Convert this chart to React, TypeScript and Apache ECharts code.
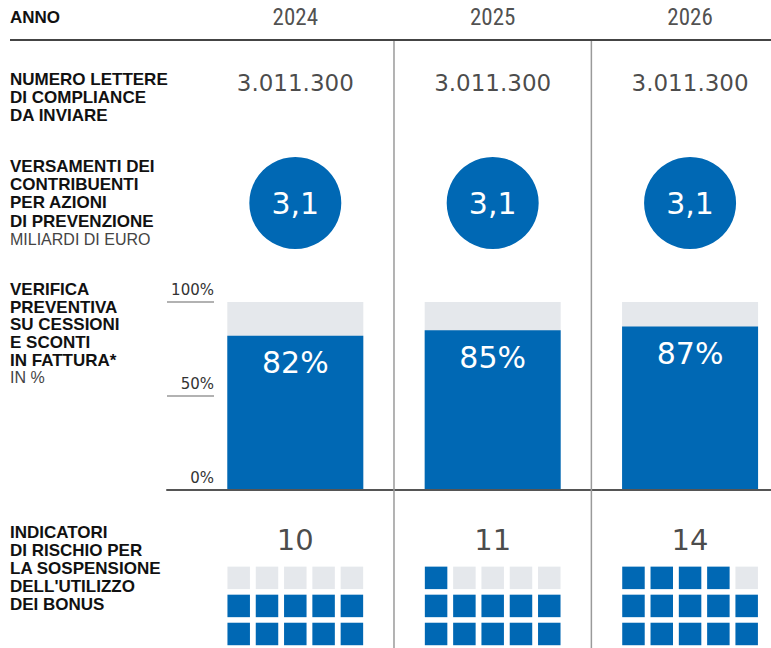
import React, { useEffect, useRef } from "react";
import * as echarts from "echarts";

// ---- data ----
const years = ["2024", "2025", "2026"];
const letters = [3011300, 3011300, 3011300];
const payments = [3.1, 3.1, 3.1];
const checks = [82, 85, 87];
const riskIndicators = [10, 11, 14];
const percentMax = 100;
const percentInterval = 50;
const waffleCols = ["1", "2", "3", "4", "5"];
const waffleRows = ["1", "2", "3"];

const headerLabel = "ANNO";
const labelLetters = ["NUMERO LETTERE", "DI COMPLIANCE", "DA INVIARE"];
const labelPayments = ["VERSAMENTI DEI", "CONTRIBUENTI", "PER AZIONI", "DI PREVENZIONE"];
const unitPayments = "MILIARDI DI EURO";
const labelChecks = ["VERIFICA", "PREVENTIVA", "SU CESSIONI", "E SCONTI", "IN FATTURA*"];
const unitChecks = "IN %";
const labelRisk = ["INDICATORI", "DI RISCHIO PER", "LA SOSPENSIONE", "DELL'UTILIZZO", "DEI BONUS"];

// ---- styles ----
const W = 771;
const H = 648;
const BLUE = "#0068b4";
const GREY = "#e5e8ec";
const DARK = "#222";
const NUM_FONT = "'DejaVu Sans', sans-serif";
const LABEL_FONT = "'Liberation Sans', Arial, sans-serif";
const YEAR_FONT = "'Liberation Sans Narrow', 'Roboto Condensed', 'Liberation Sans', sans-serif";

const X_MIN = -0.65;
const X_MAX = 2.41;
const GRID_LEFT = 167;
const colCenter = (i: number) => GRID_LEFT + ((i - X_MIN) / (X_MAX - X_MIN)) * (W - GRID_LEFT);

const fmtThousands = (v: number) => String(v).replace(/\B(?=(\d{3})+(?!\d))/g, ".");
const fmtDecimal = (v: number) => String(v).replace(".", ",");

function titleText(lines: string[], unit: string | null, top: number, lh: number) {
  let text = lines.map((l) => `{b|${l}}`).join("\n");
  if (unit) text += `\n{r|${unit}}`;
  return {
    type: "text",
    x: 10,
    y: top,
    silent: true,
    style: {
      text,
      verticalAlign: "top",
      align: "left",
      rich: {
        b: { fontFamily: LABEL_FONT, fontWeight: "bold", fontSize: 17, lineHeight: lh, fill: "#111" },
        r: { fontFamily: LABEL_FONT, fontWeight: "normal", fontSize: 16, lineHeight: lh, fill: "#444" },
      },
    },
  };
}

export default function App() {
  const ref = useRef<HTMLDivElement>(null);

  useEffect(() => {
    document.body.style.margin = "0";
    if (!ref.current) return;
    const chart = echarts.init(ref.current, undefined, { renderer: "svg" });

    const grids: any[] = [];
    const xAxes: any[] = [];
    const yAxes: any[] = [];
    const series: any[] = [];

    const hiddenX = (gi: number) => ({ type: "value", gridIndex: gi, min: X_MIN, max: X_MAX, show: false });
    const hiddenY = (gi: number) => ({ type: "value", gridIndex: gi, min: 0, max: 1, show: false });

    const textRow = (top: number, height: number, values: any[], fmt: (v: any) => string, size: number, family: string, color: string) => {
      const gi = grids.length;
      grids.push({ left: GRID_LEFT, right: 0, top, height });
      xAxes.push(hiddenX(gi));
      yAxes.push(hiddenY(gi));
      series.push({
        type: "scatter",
        xAxisIndex: gi,
        yAxisIndex: gi,
        silent: true,
        symbolSize: 1,
        itemStyle: { color: "rgba(0,0,0,0)" },
        data: values.map((_, i) => [i, 0.5]),
        label: {
          show: true,
          position: "inside",
          formatter: (p: any) => fmt(values[p.dataIndex]),
          fontSize: size,
          fontFamily: family,
          color,
        },
      });
    };

    // header years
    textRow(0, 34, years, (v) => v, 23, YEAR_FONT, "#222");
    // letters
    textRow(66, 34, letters, fmtThousands, 23, NUM_FONT, "#1a1a1a");

    // circles
    {
      const gi = grids.length;
      grids.push({ left: GRID_LEFT, right: 0, top: 157, height: 92 });
      xAxes.push(hiddenX(gi));
      yAxes.push(hiddenY(gi));
      series.push({
        type: "scatter",
        xAxisIndex: gi,
        yAxisIndex: gi,
        silent: true,
        symbol: "circle",
        symbolSize: 92,
        itemStyle: { color: BLUE, opacity: 1 },
        data: payments.map((_, i) => [i, 0.5]),
        label: {
          show: true,
          position: "inside",
          formatter: (p: any) => fmtDecimal(payments[p.dataIndex]),
          fontSize: 30,
          fontFamily: NUM_FONT,
          color: "#fff",
        },
      });
    }

    // bars
    {
      const gi = grids.length;
      grids.push({ left: GRID_LEFT, right: 0, top: 302, height: 188 });
      xAxes.push({
        type: "value",
        gridIndex: gi,
        min: X_MIN,
        max: X_MAX,
        axisLine: { show: true, onZero: false, lineStyle: { color: "#555", width: 2 } },
        axisTick: { show: false },
        axisLabel: { show: false },
        splitLine: { show: false },
        z: 5,
      });
      yAxes.push({
        type: "value",
        gridIndex: gi,
        min: 0,
        max: percentMax,
        interval: percentInterval,
        axisLine: { show: false, onZero: false },
        splitLine: { show: false },
        axisTick: { show: true, inside: true, length: 47, lineStyle: { color: "#999", width: 1.5 } },
        axisLabel: {
          show: true,
          inside: true,
          margin: 47,
          align: "right",
          verticalAlign: "bottom",
          lineHeight: 24,
          formatter: (v: number) => `${v}%`,
          fontSize: 15,
          fontFamily: NUM_FONT,
          color: "#333",
        },
      });
      series.push({
        type: "bar",
        xAxisIndex: gi,
        yAxisIndex: gi,
        silent: true,
        barWidth: 136,
        barGap: "-100%",
        itemStyle: { color: GREY },
        data: checks.map((_, i) => [i, percentMax]),
        z: 1,
      });
      series.push({
        type: "bar",
        xAxisIndex: gi,
        yAxisIndex: gi,
        silent: true,
        barWidth: 136,
        barGap: "-100%",
        itemStyle: { color: BLUE },
        data: checks.map((v, i) => [i, v]),
        label: {
          show: true,
          position: "insideTop",
          distance: 12,
          formatter: (p: any) => `${checks[p.dataIndex]}%`,
          fontSize: 30,
          fontFamily: NUM_FONT,
          color: "#fff",
        },
        z: 2,
      });
    }

    // risk numbers
    textRow(523, 34, riskIndicators, (v) => String(v), 29, NUM_FONT, "#1a1a1a");

    // waffles
    riskIndicators.forEach((n, yi) => {
      const gi = grids.length;
      grids.push({ left: colCenter(yi) - 70.75, width: 141.5, top: 563.85, height: 84.9 });
      xAxes.push({ type: "category", gridIndex: gi, data: waffleCols, show: false });
      yAxes.push({ type: "category", gridIndex: gi, data: waffleRows, show: false });
      const cells: any[] = [];
      waffleRows.forEach((_, r) => {
        waffleCols.forEach((_, c) => {
          const filled = r * waffleCols.length + c < n;
          cells.push({ value: [c, r], itemStyle: { color: filled ? BLUE : GREY, opacity: 1 } });
        });
      });
      series.push({
        type: "scatter",
        xAxisIndex: gi,
        yAxisIndex: gi,
        silent: true,
        symbol: "rect",
        symbolSize: 22.5,
        itemStyle: { opacity: 1 },
        data: cells,
      });
    });

    const sep1 = (colCenter(0) + colCenter(1)) / 2;
    const sep2 = (colCenter(1) + colCenter(2)) / 2;

    chart.setOption({
      animation: false,
      backgroundColor: "#fff",
      grid: grids,
      xAxis: xAxes,
      yAxis: yAxes,
      series,
      graphic: [
        {
          type: "text",
          x: 10,
          y: 17,
          silent: true,
          style: {
            text: headerLabel,
            verticalAlign: "middle",
            fontFamily: LABEL_FONT,
            fontWeight: "bold",
            fontSize: 17,
            fill: "#111",
          },
        },
        {
          type: "line",
          silent: true,
          shape: { x1: 10, y1: 40, x2: W, y2: 40 },
          style: { stroke: "#444", lineWidth: 2 },
          z: 10,
        },
        {
          type: "line",
          silent: true,
          shape: { x1: sep1, y1: 41, x2: sep1, y2: H },
          style: { stroke: "#9a9a9a", lineWidth: 1.5 },
          z: 10,
        },
        {
          type: "line",
          silent: true,
          shape: { x1: sep2, y1: 41, x2: sep2, y2: H },
          style: { stroke: "#9a9a9a", lineWidth: 1.5 },
          z: 10,
        },
        titleText(labelLetters, null, 70, 18.3),
        titleText(labelPayments, unitPayments, 157, 18.3),
        titleText(labelChecks, unitChecks, 280.5, 17.7),
        titleText(labelRisk, null, 523.5, 18),
      ],
    });

    return () => chart.dispose();
  }, []);

  return <div ref={ref} style={{ width: W, height: H }} />;
}
